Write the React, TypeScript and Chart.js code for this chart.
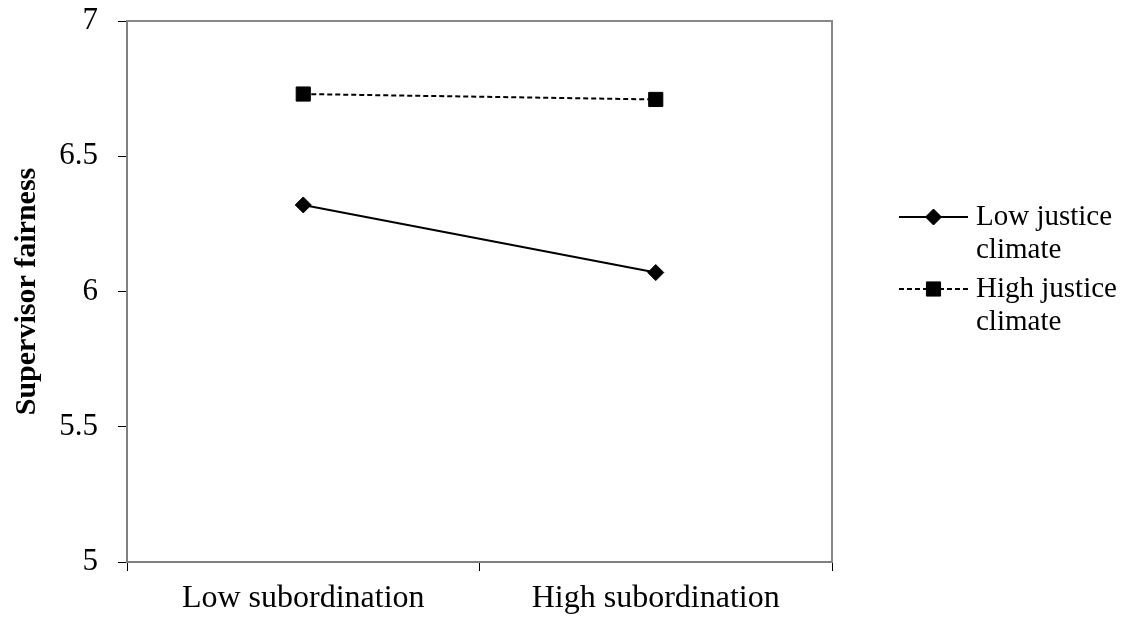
import React, { useEffect, useRef } from "react";
import { Chart, registerables } from "chart.js";
import { drawPoint } from "chart.js/helpers";

Chart.register(...registerables);

// ---- data ----
const categories = ["Low subordination", "High subordination"];
const lowJustice = [6.32, 6.07];
const highJustice = [6.73, 6.71];
const lowLabel = ["Low justice", "climate"];
const highLabel = ["High justice", "climate"];
const yMin = 5;
const yMax = 7;
const yStep = 0.5;
const yTitle = "Supervisor fairness";

const SERIF = '"Liberation Serif", "Times New Roman", serif';

const framePlugin = {
  id: "frame",
  afterDraw(chart: any) {
    const { ctx, chartArea } = chart;
    ctx.save();
    ctx.strokeStyle = "#888888";
    ctx.lineWidth = 2;
    ctx.beginPath();
    ctx.moveTo(chartArea.left, chartArea.top);
    ctx.lineTo(chartArea.right, chartArea.top);
    ctx.lineTo(chartArea.right, chartArea.bottom);
    ctx.stroke();
    ctx.restore();
  },
};

const sideLegendPlugin = {
  id: "sideLegend",
  afterDraw(chart: any) {
    const { ctx, chartArea } = chart;
    const lx0 = chartArea.right + 67;
    const lx1 = chartArea.right + 136;
    const mx = (lx0 + lx1) / 2;
    const tx = chartArea.right + 144;
    const firstY = 209;
    const entryGap = 72;
    const lineH = 33;
    chart.data.datasets.forEach((ds: any, i: number) => {
      const y = firstY + i * entryGap;
      ctx.save();
      ctx.strokeStyle = ds.borderColor;
      ctx.lineWidth = ds.borderWidth;
      ctx.setLineDash(ds.borderDash || []);
      ctx.beginPath();
      ctx.moveTo(lx0, y);
      ctx.lineTo(lx1, y);
      ctx.stroke();
      ctx.setLineDash([]);
      ctx.fillStyle = ds.pointBackgroundColor;
      ctx.strokeStyle = ds.pointBorderColor;
      ctx.lineWidth = 1;
      drawPoint(
        ctx,
        { pointStyle: ds.pointStyle, radius: ds.pointRadius, rotation: 0, borderWidth: 1 } as any,
        mx,
        y
      );
      ctx.fillStyle = "#000";
      ctx.font = `29px ${SERIF}`;
      ctx.textAlign = "left";
      ctx.textBaseline = "middle";
      const lines: string[] = Array.isArray(ds.label) ? ds.label : [ds.label];
      lines.forEach((t, k) => ctx.fillText(t, tx, y + k * lineH));
      ctx.restore();
    });
  },
};

export default function App() {
  const ref = useRef<HTMLCanvasElement | null>(null);

  useEffect(() => {
    if (!ref.current) return;
    const chart = new Chart(ref.current, {
      type: "line",
      data: {
        labels: categories,
        datasets: [
          {
            label: lowLabel as any,
            data: lowJustice,
            borderColor: "#000",
            borderWidth: 2,
            pointStyle: "rectRot",
            pointRadius: 8,
            pointBorderWidth: 1,
            pointBackgroundColor: "#000",
            pointBorderColor: "#000",
            tension: 0,
          },
          {
            label: highLabel as any,
            data: highJustice,
            borderColor: "#000",
            borderWidth: 2,
            borderDash: [5, 3],
            pointStyle: "rect",
            pointRadius: 10,
            pointBorderWidth: 1,
            pointBackgroundColor: "#000",
            pointBorderColor: "#000",
            tension: 0,
          },
        ],
      },
      options: {
        animation: false,
        responsive: true,
        maintainAspectRatio: false,
        layout: { padding: { top: 13, right: 287, bottom: 0, left: 0 } },
        plugins: {
          legend: { display: false },
          tooltip: { enabled: false },
        },
        scales: {
          x: {
            type: "category",
            offset: true,
            grid: {
              offset: true,
              drawOnChartArea: false,
              drawTicks: true,
              tickLength: 9,
              tickColor: "#000",
              lineWidth: 1,
            },
            border: { display: true, color: "#808080", width: 2 },
            ticks: {
              color: "#000",
              font: { family: SERIF, size: 32 },
              padding: 8,
              maxRotation: 0,
              autoSkip: false,
            },
            afterFit(scale: any) {
              scale.height = 52;
              scale.paddingLeft = 0;
              scale.paddingRight = 0;
            },
          },
          y: {
            min: yMin,
            max: yMax,
            ticks: {
              stepSize: yStep,
              color: "#000",
              font: { family: SERIF, size: 31 },
              padding: 20,
              callback: (v: any) => String(Number(v)),
            },
            grid: {
              drawOnChartArea: false,
              drawTicks: true,
              tickLength: 9,
              tickColor: "#000",
              lineWidth: 1,
            },
            border: { display: true, color: "#808080", width: 2 },
            title: {
              display: true,
              text: yTitle,
              color: "#000",
              font: { family: SERIF, size: 30, weight: "bold" },
              padding: { top: 1, bottom: 0 },
            },
            afterFit(scale: any) {
              scale.width = 119;
              scale.paddingTop = 0;
              scale.paddingBottom = 0;
            },
          },
        },
      },
      plugins: [framePlugin, sideLegendPlugin],
    });
    return () => chart.destroy();
  }, []);

  return (
    <div style={{ position: "relative", width: "100%", height: 606 }}>
      <canvas ref={ref} />
    </div>
  );
}
